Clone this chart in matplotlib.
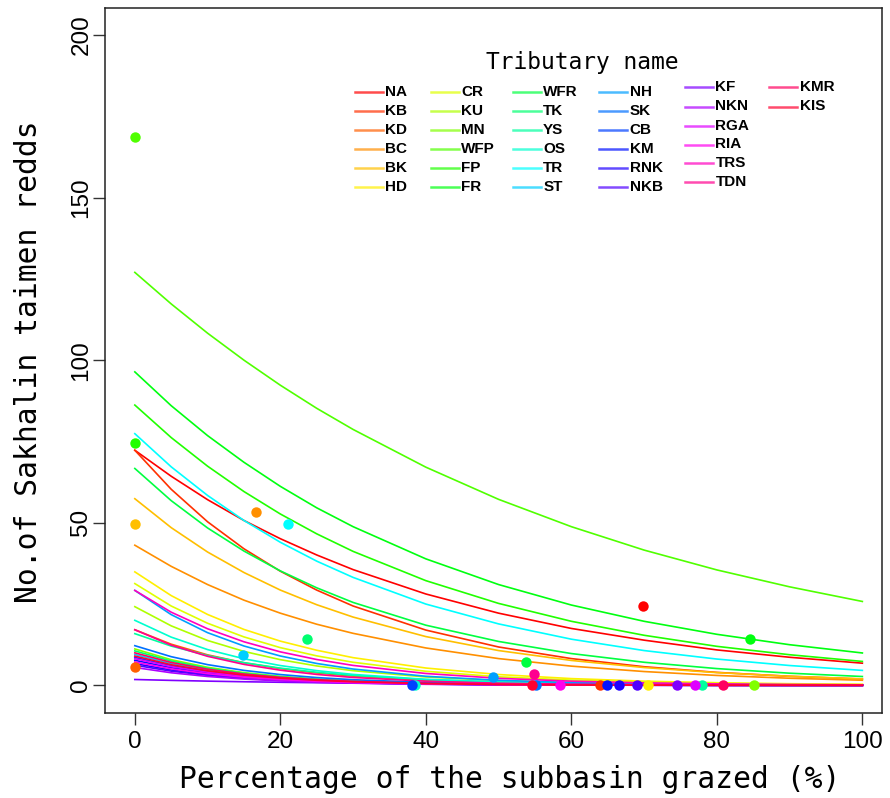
import matplotlib
matplotlib.use("Agg")
import matplotlib.pyplot as plt
from matplotlib.colors import hsv_to_rgb
from matplotlib.lines import Line2D

# ---------------- data ----------------
tributaries = ["NA", "KB", "KD", "BC", "BK", "HD",
               "CR", "KU", "MN", "WFP", "FP", "FR",
               "WFR", "TK", "YS", "OS", "TR", "ST",
               "NH", "SK", "CB", "KM", "RNK", "NKB",
               "KF", "NKN", "RGA", "RIA", "TRS", "TDN",
               "KMR", "KIS"]

grazed_grid = [0, 5, 10, 15, 20, 25, 30, 40, 50, 60, 70, 80, 90, 100]

# fitted number of redds along grazed_grid
fit_NA  = [72.3, 64.3, 57.1, 50.7, 45.1, 40.1, 35.6, 28.1, 22.2, 17.5, 13.9, 10.9, 8.64, 6.82]
fit_KB  = [72.3, 60.3, 50.3, 42.0, 35.1, 29.3, 24.4, 17.0, 11.8, 8.23, 5.73, 3.99, 2.78, 1.94]
fit_KD  = [17.1, 12.66, 9.38, 6.95, 5.15, 3.82, 2.83, 1.55, 0.85, 0.47, 0.26, 0.14, 0.08, 0.04]
fit_BC  = [43.1, 36.6, 31.0, 26.2, 22.2, 18.8, 16.0, 11.5, 8.23, 5.91, 4.25, 3.05, 2.19, 1.57]
fit_BK  = [57.4, 48.5, 41.0, 34.7, 29.3, 24.8, 21.0, 15.0, 10.7, 7.66, 5.48, 3.92, 2.80, 2.00]
fit_HD  = [34.9, 27.6, 21.8, 17.2, 13.6, 10.8, 8.52, 5.33, 3.33, 2.08, 1.30, 0.81, 0.51, 0.32]
fit_CR  = [31.3, 24.4, 19.1, 14.9, 11.6, 9.07, 7.10, 4.33, 2.64, 1.61, 0.98, 0.60, 0.37, 0.22]
fit_KU  = [24.2, 18.3, 13.8, 10.44, 7.90, 5.97, 4.51, 2.58, 1.47, 0.84, 0.48, 0.27, 0.16, 0.09]
fit_MN  = [11.2, 7.89, 5.56, 3.92, 2.76, 1.94, 1.37, 0.68, 0.34, 0.17, 0.08, 0.04, 0.02, 0.01]
fit_WFP = [127.0, 117.3, 108.3, 100.0, 92.3, 85.2, 78.7, 67.1, 57.2, 48.8, 41.6, 35.5, 30.3, 25.8]
fit_FP  = [86.2, 76.2, 67.4, 59.6, 52.7, 46.6, 41.2, 32.2, 25.2, 19.7, 15.4, 12.0, 9.42, 7.36]
fit_FR  = [96.4, 86.0, 76.8, 68.6, 61.2, 54.6, 48.8, 38.9, 31.0, 24.7, 19.7, 15.7, 12.5, 9.96]
fit_WFR = [66.7, 56.8, 48.4, 41.3, 35.2, 30.0, 25.5, 18.5, 13.5, 9.78, 7.10, 5.16, 3.74, 2.72]
fit_TK  = [10.6, 7.47, 5.26, 3.71, 2.61, 1.84, 1.30, 0.64, 0.32, 0.16, 0.08, 0.04, 0.02, 0.01]
fit_YS  = [15.9, 12.08, 9.18, 6.97, 5.30, 4.03, 3.06, 1.76, 1.02, 0.59, 0.34, 0.20, 0.11, 0.07]
fit_OS  = [20.0, 14.83, 11.0, 8.18, 6.09, 4.53, 3.37, 1.86, 1.03, 0.57, 0.31, 0.17, 0.10, 0.05]
fit_TR  = [77.4, 67.2, 58.4, 50.7, 44.0, 38.2, 33.2, 25.0, 18.9, 14.2, 10.7, 8.09, 6.10, 4.60]
fit_ST  = [9.5, 6.70, 4.72, 3.32, 2.34, 1.65, 1.16, 0.58, 0.29, 0.14, 0.07, 0.04, 0.02, 0.01]
fit_NH  = [29.2, 21.75, 16.2, 12.1, 9.03, 6.73, 5.02, 2.79, 1.55, 0.86, 0.48, 0.27, 0.15, 0.08]
fit_SK  = [12.2, 8.82, 6.37, 4.60, 3.32, 2.40, 1.74, 0.91, 0.47, 0.25, 0.13, 0.07, 0.04, 0.02]
fit_CB  = [8.6, 6.06, 4.27, 3.01, 2.12, 1.49, 1.05, 0.52, 0.26, 0.13, 0.06, 0.03, 0.02, 0.01]
fit_KM  = [7.7, 5.42, 3.82, 2.69, 1.90, 1.34, 0.94, 0.47, 0.23, 0.12, 0.06, 0.03, 0.01, 0.01]
fit_RNK = [6.7, 4.72, 3.33, 2.34, 1.65, 1.16, 0.82, 0.41, 0.20, 0.10, 0.05, 0.03, 0.01, 0.01]
fit_NKB = [6.2, 4.37, 3.08, 2.17, 1.53, 1.08, 0.76, 0.38, 0.19, 0.09, 0.05, 0.02, 0.01, 0.01]
fit_KF  = [1.8, 1.53, 1.30, 1.11, 0.95, 0.81, 0.69, 0.50, 0.36, 0.26, 0.19, 0.14, 0.10, 0.07]
fit_NKN = [5.5, 3.87, 2.73, 1.93, 1.36, 0.95, 0.67, 0.33, 0.17, 0.08, 0.04, 0.02, 0.01, 0.00]
fit_RGA = [8.2, 5.78, 4.07, 2.87, 2.02, 1.42, 1.00, 0.50, 0.25, 0.12, 0.06, 0.03, 0.02, 0.01]
fit_RIA = [7.2, 5.08, 3.58, 2.52, 1.78, 1.25, 0.88, 0.44, 0.22, 0.11, 0.05, 0.03, 0.01, 0.01]
fit_TRS = [29.2, 22.5, 17.4, 13.4, 10.3, 7.95, 6.13, 3.65, 2.17, 1.29, 0.77, 0.46, 0.27, 0.16]
fit_TDN = [17.1, 12.36, 8.93, 6.45, 4.66, 3.36, 2.43, 1.27, 0.66, 0.35, 0.18, 0.09, 0.05, 0.03]
fit_KMR = [10.0, 7.05, 4.97, 3.50, 2.47, 1.74, 1.22, 0.61, 0.30, 0.15, 0.07, 0.04, 0.02, 0.01]
fit_KIS = [9.0, 6.34, 4.47, 3.15, 2.22, 1.56, 1.10, 0.55, 0.27, 0.14, 0.07, 0.03, 0.02, 0.01]

fitted = [fit_NA, fit_KB, fit_KD, fit_BC, fit_BK, fit_HD,
          fit_CR, fit_KU, fit_MN, fit_WFP, fit_FP, fit_FR,
          fit_WFR, fit_TK, fit_YS, fit_OS, fit_TR, fit_ST,
          fit_NH, fit_SK, fit_CB, fit_KM, fit_RNK, fit_NKB,
          fit_KF, fit_NKN, fit_RGA, fit_RIA, fit_TRS, fit_TDN,
          fit_KMR, fit_KIS]

# observed (percentage grazed, number of redds); None = not shown
obs_grazed = [69.8, 63.9, 0.0, 16.6, 0.0, 70.6,
              None, None, 85.1, 0.0, 0.0, 84.6,
              53.8, 23.7, 77.9, 38.5, 21.0, 14.9,
              49.2, 55.2, 38.1, 64.9, 66.5, 69.0,
              74.5, None, 77.0, 58.5, None, 54.9,
              80.9, 54.6]
obs_redds = [24.5, 0, 5.6, 53.3, 49.5, 0,
             None, None, 0, 168.5, 74.5, 14.3,
             7.3, 14.2, 0, 0, 49.5, 9.3,
             2.7, 0, 0, 0, 0, 0,
             0, None, 0, 0, None, 3.5,
             0, 0]

y_ticks = [0, 50, 100, 150, 200]
x_ticks = [0, 20, 40, 60, 80, 100]

# ---------------- plot ----------------
W, H = 890, 798
n = len(tributaries)
colors = [hsv_to_rgb((i / n, 1.0, 1.0)) for i in range(n)]

fig = plt.figure(figsize=(W / 100, H / 100), dpi=100)
ax = fig.add_axes([105 / W, 1 - 713 / H, (882 - 105) / W, (713 - 8) / H])

for i in range(n):
    ax.plot(grazed_grid, fitted[i], color=colors[i], lw=1.2,
            solid_joinstyle="round")
for i in range(n):
    if obs_grazed[i] is not None:
        ax.plot([obs_grazed[i]], [obs_redds[i]], "o", color=colors[i],
                ms=7.5, mec="none", zorder=5)

ax.set_xlim(-4.1, 102.7)
ax.set_ylim(-8.5, 208.3)
ax.set_xticks(x_ticks)
ax.set_yticks(y_ticks)
ax.set_xticklabels([str(t) for t in x_ticks], fontfamily="Liberation Sans",
                   fontsize=17.5)
ax.set_yticklabels([str(t) for t in y_ticks], fontfamily="Liberation Sans",
                   fontsize=17.5, rotation=90, va="center")
ax.tick_params(axis="both", direction="out", length=8.6, width=1.0,
               color="#333333")
ax.tick_params(axis="x", pad=4.5)
ax.tick_params(axis="y", pad=0.5)
for s in ax.spines.values():
    s.set_linewidth(1.1)
    s.set_color("#222222")

mono = ["DejaVu Sans Mono", "Noto Sans CJK JP"]
fig.text(510 / W, 1 - 788 / H, "Percentage of the subbasin grazed (%)",
         ha="center", va="baseline", fontsize=21.3, family=mono)
fig.text(28.5 / W, 1 - 362 / H, "No.of Sakhalin taimen redds",
         ha="center", va="center", rotation=90, fontsize=21.3, family=mono)

# ---------------- legend (drawn manually) ----------------
fig.text(582 / W, 1 - 63 / H, "Tributary name", ha="center", va="center",
         fontsize=16.5, family=mono)
col_x = [355, 430.7, 512.7, 599.3, 685, 769.3]
row_y = [91.7, 111, 130, 149, 167.7, 186.7]
for i, name in enumerate(tributaries):
    c, r = i // 6, i % 6
    x0 = col_x[c]
    y0 = row_y[r] - (4.5 if c >= 4 else 0)
    fig.add_artist(Line2D([x0 / W, (x0 + 28) / W], [1 - y0 / H, 1 - y0 / H],
                          transform=fig.transFigure, color=colors[i],
                          lw=1.8, alpha=0.7))
    fig.text((x0 + 30.5) / W, 1 - y0 / H, name, ha="left", va="center",
             fontsize=11, family="Liberation Sans", weight="bold")

fig.savefig("out.png", dpi=100)
